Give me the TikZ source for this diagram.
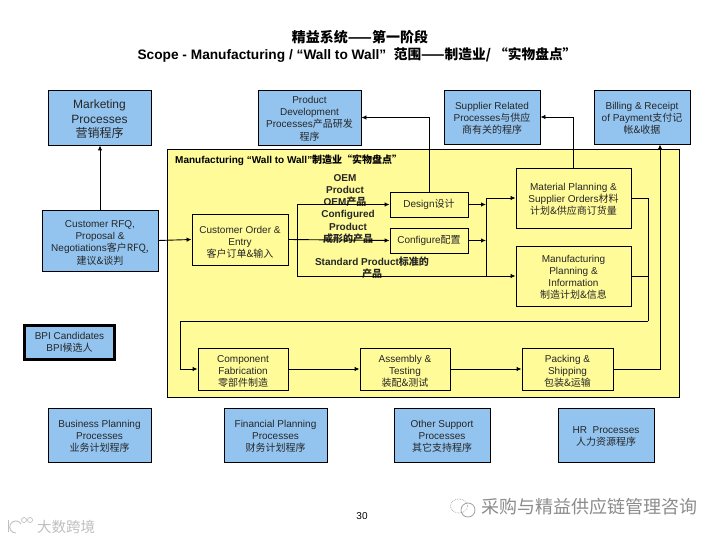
\documentclass[tikz,border=0pt]{standalone}
\usepackage{fontspec}
\setmainfont{Liberation Sans}
\newfontfamily\cjk{Noto Sans CJK SC}
\usetikzlibrary{arrows.meta}
\newcommand{\zh}[1]{{\cjk #1}}
\newcommand{\upa}{\rule{0pt}{9.5bp}}
\newcommand{\upb}{\rule{0pt}{11.5bp}}
\definecolor{bluefill}{HTML}{93C4F0}
\definecolor{yellowfill}{HTML}{FFFB99}
\tikzset{
 x=1bp,y=-1bp,
 boxbase/.style={draw=black,rectangle,anchor=center,align=center,inner sep=0pt,font=\fontsize{10bp}{12.2bp}\selectfont,text=black!85},
 bluebox/.style={boxbase,fill=bluefill,line width=0.9bp},
 whitebox/.style={boxbase,fill=yellowfill,line width=0.9bp},
 conn/.style={draw=black,line width=0.9bp,-{Latex[length=5bp,width=4.5bp]}},
 plain/.style={draw=black,line width=0.9bp},
 lab/.style={align=center,inner sep=0pt,font=\fontsize{10bp}{12.2bp}\selectfont\bfseries,text=black!85},
 wmark/.style={inner sep=0pt,text=black!45}
}
\begin{document}
\begin{tikzpicture}
\useasboundingbox (0,0) rectangle (720,540);
\fill[white] (0,0) rectangle (720,540);
% titles
\node[inner sep=0pt,font=\fontsize{14bp}{16bp}\selectfont\bfseries] (t1) at (360,37) {\zh{精益系统——第一阶段}};
\node[inner sep=0pt,font=\fontsize{13.7bp}{16bp}\selectfont\bfseries] (t2) at (357,55) {Scope - Manufacturing / “Wall to Wall”\ \ \zh{范围——制造业/ “实物盘点”}};
% area
\node[boxbase,fill=yellowfill,line width=1bp,minimum width=511bp,minimum height=247bp] (area) at (423.5,273.5) {};
\node[anchor=west,inner sep=0pt,font=\fontsize{10bp}{12bp}\selectfont\bfseries] (areat) at (175,160.5) {Manufacturing “Wall to Wall”\zh{制造业“实物盘点”}};
% top boxes
\node[bluebox,minimum width=103bp,minimum height=55bp,font=\fontsize{12bp}{14.5bp}\selectfont] (mkt) at (99.5,117.5) {\rule{0pt}{13bp}Marketing\\Processes\\\zh{营销程序}};
\node[bluebox,minimum width=103bp,minimum height=55bp] (pd) at (309.5,117.5) {\upa Product\\Development\\Processes\zh{产品研发}\\\zh{程序}};
\node[bluebox,minimum width=96bp,minimum height=54bp] (sup) at (492,117) {\upa Supplier Related\\Processes\zh{与供应}\\\zh{商有关的程序}};
\node[bluebox,minimum width=96bp,minimum height=54bp] (bill) at (642,117) {\upa Billing \& Receipt\\of Payment\zh{支付记}\\\zh{帐\&收据}};
% left
\node[bluebox,minimum width=116bp,minimum height=61bp] (rfq) at (100,240.5) {\upb Customer RFQ,\\Proposal \&\\Negotiations\zh{客户RFQ,}\\\zh{建议\&谈判}};
\node[bluebox,line width=3bp,minimum width=90bp,minimum height=34bp] (bpi) at (69.5,342.5) {BPI Candidates\\BPI\zh{候选人}};
% inner
\node[whitebox,minimum width=96bp,minimum height=51bp] (order) at (240,239.5) {\rule{0pt}{13bp}Customer Order \&\\Entry\\\zh{客户订单\&输入}};
\node[whitebox,minimum width=78bp,minimum height=25bp] (design) at (429,204.5) {Design\zh{设计}};
\node[whitebox,minimum width=78bp,minimum height=25bp] (cfg) at (429,240.5) {Configure\zh{配置}};
\node[whitebox,minimum width=115bp,minimum height=60bp] (mat) at (573.5,198) {\upa Material Planning \&\\Supplier Orders\zh{材料}\\\zh{计划\&供应商订货量}};
\node[whitebox,minimum width=115bp,minimum height=60bp] (mfg) at (573.5,276) {\upa Manufacturing\\Planning \&\\Information\\\zh{制造计划\&信息}};
\node[whitebox,minimum width=90bp,minimum height=42bp] (comp) at (243,369) {\upb Component\\Fabrication\\\zh{零部件制造}};
\node[whitebox,minimum width=90bp,minimum height=42bp] (asm) at (405,369) {\upb Assembly \&\\Testing\\\zh{装配\&测试}};
\node[whitebox,minimum width=91bp,minimum height=42bp] (pack) at (567.5,369) {\upb Packing \&\\Shipping\\\zh{包装\&运输}};
% bottom boxes
\node[bluebox,minimum width=103bp,minimum height=54bp] (bp) at (99.5,435) {\upa Business Planning\\Processes\\\zh{业务计划程序}};
\node[bluebox,minimum width=103bp,minimum height=54bp] (fp) at (275.5,435) {\upa Financial Planning\\Processes\\\zh{财务计划程序}};
\node[bluebox,minimum width=96bp,minimum height=54bp] (os) at (442,435) {\upa Other Support\\Processes\\\zh{其它支持程序}};
\node[bluebox,minimum width=96bp,minimum height=54bp] (hr) at (606,435) {\upa HR\ \ Processes\\\zh{人力资源程序}};
% labels
\node[lab] (l1) at (345,190.5) {OEM\\Product\\OEM\zh{产品}};
\node[lab] (l2) at (348,227) {Configured\\Product\\\zh{成形的产品}};
\node[lab] (l3) at (372,268) {Standard Product\zh{标准的}\\\zh{产品}};
% junctions
\coordinate (a) at (297,204.5);
\coordinate (ab) at (297,276);
\coordinate (b) at (486,198);
\coordinate (c) at (648,198);
\coordinate (d) at (648,321);
\coordinate (e) at (180,321);
\coordinate (f) at (660,369);
\draw[conn] (rfq.north) -- (rfq.north |- mkt.south);
\draw[conn] (rfq.east) -- (order.west);
\draw[conn] (order.east) -- (cfg.west);
\draw[plain] (ab) -- (a);
\draw[conn] (a) -- (design.west);
\draw[conn] (ab) -- (mfg.west);
\draw[conn] (design.east) -- (design.east -| b);
\draw[conn] (cfg.east) -- (cfg.east -| b);
\draw[plain] (b) -- (b |- mfg.west);
\draw[conn] (b) -- (mat.west);
\draw[conn] (design.north) |- (pd.east);
\draw[conn] (mat.north) |- (sup.east);
\draw[plain] (mat.east) -- (c) -- (d);
\draw[plain] (mfg.east) -- (mfg.east -| c);
\draw[conn] (d) -- (e) |- (comp.west);
\draw[conn] (comp.east) -- (asm.west);
\draw[conn] (asm.east) -- (pack.west);
\draw[conn] (pack.east) -- (f) -- (f |- bill.south);
% page number and marks
\node[inner sep=0pt,font=\fontsize{10bp}{12bp}\selectfont] (pg) at (362,516) {30};
\node[wmark,anchor=west,font=\fontsize{18bp}{20bp}\selectfont] (wm) at (481,507) {\zh{采购与精益供应链管理咨询}};
\draw[black!35,line width=0.7bp,densely dotted] (459,506) ellipse (8.5bp and 7bp);
\draw[black!40,line width=0.7bp] (468,510) ellipse (7bp and 7bp);
\node[wmark,anchor=west,text=black!25,font=\fontsize{14.5bp}{16bp}\selectfont] (wl) at (37,527) {\zh{大数跨境}};
\draw[black!25,line width=0.9bp] (8,520) -- (8,532);
\draw[black!25,line width=0.9bp] (21,524) arc (30:270:6bp);
\draw[black!25,line width=0.7bp] (24,520) circle (2.5bp) (30,520) circle (2.5bp);
\end{tikzpicture}
\end{document}
